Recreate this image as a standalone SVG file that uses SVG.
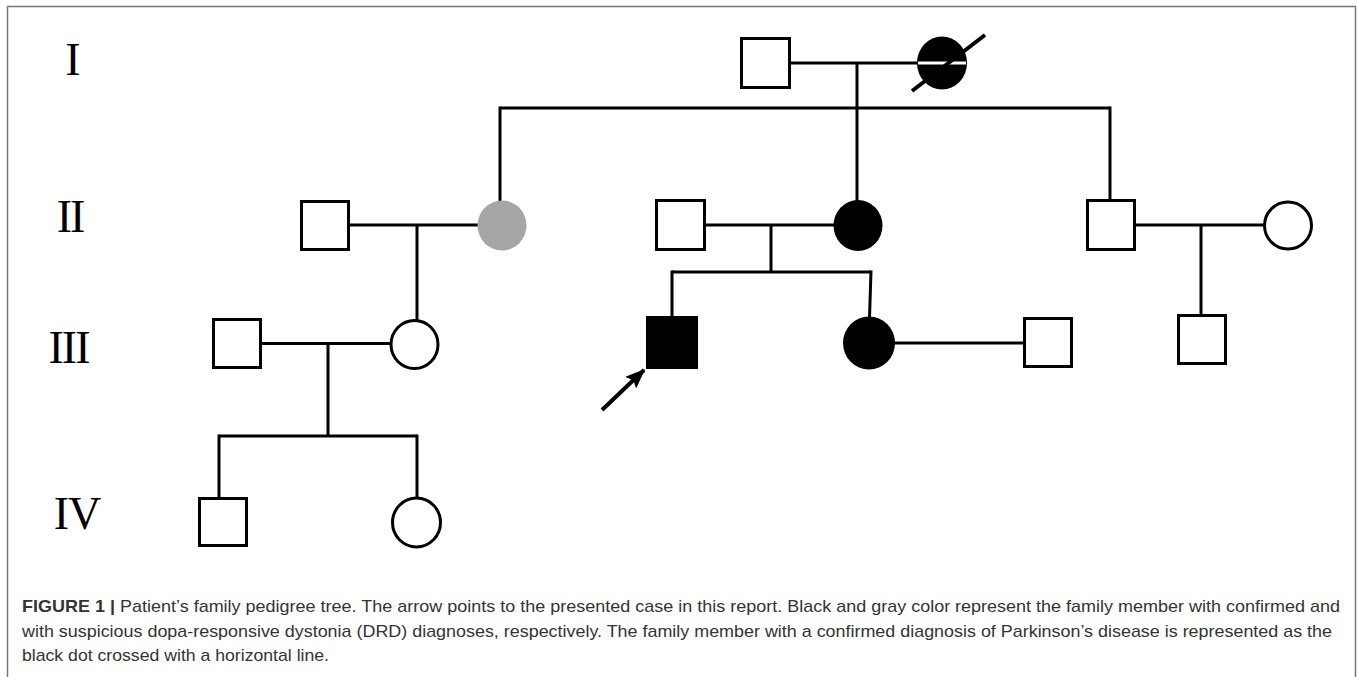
<svg xmlns="http://www.w3.org/2000/svg" width="1357" height="677" viewBox="0 0 1357 677">
<style>
.ln{stroke:#000;stroke-width:3;fill:none}
.m{fill:#fff;stroke:#000;stroke-width:3}
.aff{fill:#000;stroke:none}
.gen{font-family:"Liberation Serif","Times New Roman",serif;font-size:46px;fill:#000;text-anchor:middle}
.cap{font-family:"Liberation Sans",Arial,sans-serif;font-size:17px;fill:#333}
</style>
<defs>
<marker id="ah" markerWidth="5" markerHeight="4" refX="4.6" refY="2" orient="auto" markerUnits="strokeWidth">
<path d="M0,0 L5,2 L0,4 L0.9,2 Z" fill="#000"/>
</marker>
</defs>
<rect width="1357" height="677" fill="#fff"/>
<path d="M7.5,680 V6.5 H1355.5 V680" fill="none" stroke="#777" stroke-width="1.5"/>

<g id="labels">
<text class="gen" x="73" y="75">I</text>
<text class="gen" x="70" y="232" letter-spacing="-2">II</text>
<text class="gen" x="68.5" y="363" letter-spacing="-2">III</text>
<text class="gen" x="77" y="529" letter-spacing="-1">IV</text>
</g>

<g id="connectors">
<line class="ln" x1="790" y1="63" x2="918" y2="63"/>
<line class="ln" x1="857" y1="63" x2="857" y2="201"/>
<line class="ln" x1="500" y1="108" x2="1110" y2="108"/>
<line class="ln" x1="500" y1="106.5" x2="500" y2="202"/>
<line class="ln" x1="1110" y1="106.5" x2="1110" y2="201"/>

<line class="ln" x1="349" y1="225" x2="479" y2="225"/>
<line class="ln" x1="417" y1="225" x2="417" y2="320"/>
<line class="ln" x1="261" y1="343.5" x2="391" y2="343.5"/>
<line class="ln" x1="328" y1="343.5" x2="328" y2="436"/>
<line class="ln" x1="219" y1="436" x2="417" y2="436"/>
<line class="ln" x1="219" y1="434.5" x2="219" y2="498"/>
<line class="ln" x1="417" y1="434.5" x2="417" y2="498"/>

<line class="ln" x1="705" y1="225" x2="835" y2="225"/>
<line class="ln" x1="771" y1="225" x2="771" y2="272"/>
<line class="ln" x1="672" y1="272" x2="871" y2="272"/>
<line class="ln" x1="672" y1="270.5" x2="672" y2="317"/>
<line class="ln" x1="871" y1="270.5" x2="869.5" y2="318"/>
<line class="ln" x1="890" y1="343" x2="1024" y2="343"/>

<line class="ln" x1="1135" y1="225" x2="1264" y2="225"/>
<line class="ln" x1="1201" y1="225" x2="1201" y2="315"/>

<line x1="602" y1="410" x2="644" y2="370" stroke="#000" stroke-width="4" marker-end="url(#ah)"/>
</g>

<g id="I-1"><rect class="m" x="741.5" y="38.5" width="48" height="49"/></g>
<g id="I-2">
<ellipse class="aff" cx="942" cy="63" rx="25" ry="26.5"/>
<line x1="918" y1="63" x2="966" y2="63" stroke="#fff" stroke-width="3"/>
<line x1="912" y1="91" x2="985" y2="35" stroke="#000" stroke-width="4"/>
</g>

<g id="II-1"><rect class="m" x="301.5" y="201.5" width="47" height="48"/></g>
<g id="II-2"><ellipse cx="502" cy="225.5" rx="24.5" ry="25" fill="#a6a6a6"/></g>
<g id="II-3"><rect class="m" x="656.5" y="200.5" width="48" height="49"/></g>
<g id="II-4"><ellipse class="aff" cx="858" cy="225.5" rx="24.5" ry="25.5"/></g>
<g id="II-6"><rect class="m" x="1087.5" y="200.5" width="47" height="49"/></g>
<g id="II-7"><circle class="m" cx="1288" cy="225.5" r="23.5"/></g>

<g id="III-1"><rect class="m" x="213.5" y="319.5" width="47" height="48"/></g>
<g id="III-2"><ellipse class="m" cx="414.5" cy="344.5" rx="23.5" ry="24"/></g>
<g id="III-3"><rect class="aff" x="646" y="316" width="52" height="53"/></g>
<g id="III-4"><ellipse class="aff" cx="869" cy="343" rx="26" ry="26.5"/></g>
<g id="III-5"><rect class="m" x="1024.5" y="318.5" width="47" height="48"/></g>
<g id="III-6"><rect class="m" x="1178.5" y="315.5" width="47" height="48"/></g>

<g id="IV-1"><rect class="m" x="199.5" y="498.5" width="47" height="47"/></g>
<g id="IV-2"><ellipse class="m" cx="416.5" cy="522.5" rx="24" ry="24.5"/></g>

<g id="caption">
<text class="cap" x="22" y="612" textLength="1318" lengthAdjust="spacingAndGlyphs"><tspan font-weight="bold">FIGURE 1 |</tspan> Patient’s family pedigree tree. The arrow points to the presented case in this report. Black and gray color represent the family member with confirmed and</text>
<text class="cap" x="22" y="636.5" textLength="1310" lengthAdjust="spacingAndGlyphs">with suspicious dopa-responsive dystonia (DRD) diagnoses, respectively. The family member with a confirmed diagnosis of Parkinson’s disease is represented as the</text>
<text class="cap" x="22" y="661" textLength="307" lengthAdjust="spacingAndGlyphs">black dot crossed with a horizontal line.</text>
</g>
</svg>
